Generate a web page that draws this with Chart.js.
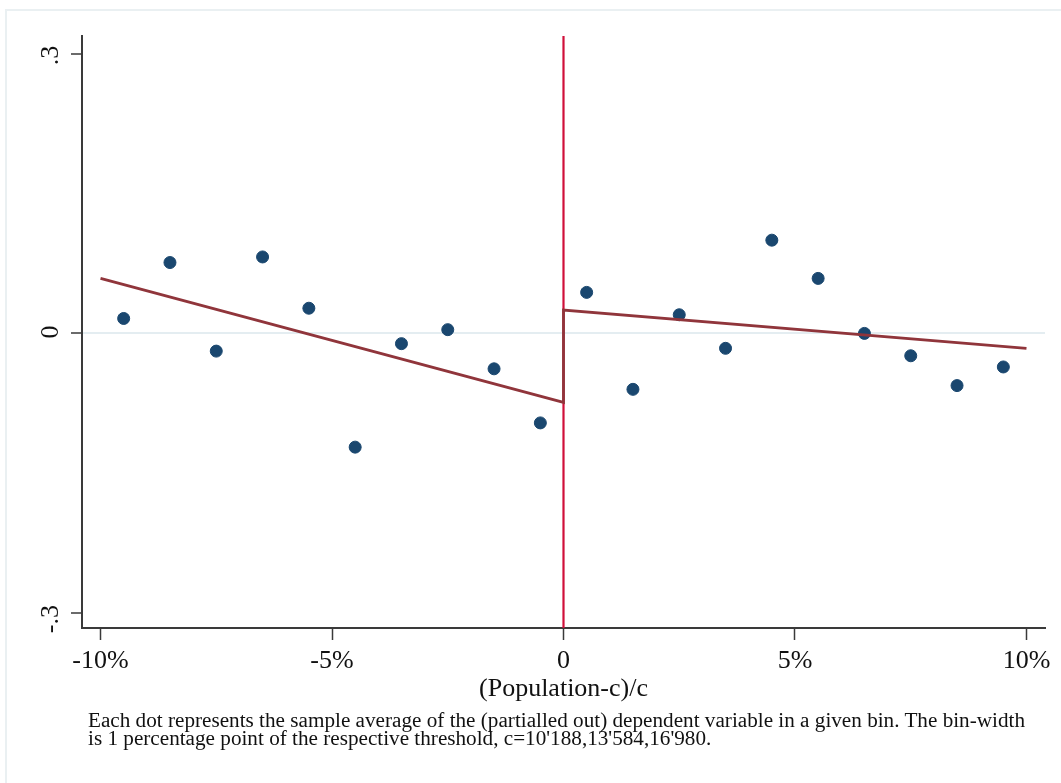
<!DOCTYPE html>
<html>
<head>
<meta charset="utf-8">
<script src="https://cdn.jsdelivr.net/npm/chart.js@4.4.1/dist/chart.umd.min.js"></script>
<style>
  html, body { margin: 0; padding: 0; background: #fff; }
  #wrap { position: relative; width: 1061px; height: 783px; overflow: hidden; }
  #frame { position: absolute; left: 5px; top: 9px; width: 1100px; height: 800px;
           border-top: 2px solid #eaf0f2; border-left: 2px solid #eaf0f2; }
  #chart { position: absolute; left: 0; top: 0; }
  #note { position: absolute; left: 88px; top: 711px; font-family: "Liberation Serif", serif;
          font-size: 20px; line-height: 18px; color: #111; white-space: nowrap;
          transform-origin: 0 0; }
</style>
</head>
<body>
<div id="wrap">
  <div id="frame"></div>
  <canvas id="chart" width="1061" height="783"></canvas>
  <div id="note"><span id="l1">Each dot represents the sample average of the (partialled out) dependent variable in a given bin. The bin-width</span><br>is 1 percentage point of the respective threshold, c=10'188,13'584,16'980.</div>
</div>
<script>
// bins (centre of each 1pp bin) and their averages
const binX = [-9.5, -8.5, -7.5, -6.5, -5.5, -4.5, -3.5, -2.5, -1.5, -0.5,
               0.5,  1.5,  2.5,  3.5,  4.5,  5.5,  6.5,  7.5,  8.5,  9.5];
const binY = [0.016, 0.076, -0.019, 0.082, 0.027, -0.122, -0.011, 0.004, -0.038, -0.096,
              0.044, -0.060, 0.020, -0.016, 0.100, 0.059, 0.000, -0.024, -0.056, -0.036];

// linear fits either side of the threshold
const fitX = [-10, 0, 0, 10];
const fitY = [0.059, -0.074, 0.025, -0.016];

const xTicks = [-10, -5, 0, 5, 10];
const yTicks = [-0.3, 0, 0.3];
const yLabels = ["-.3", "0", ".3"];
const xMin = -10.4, xMax = 10.4;
const yMin = -0.316, yMax = 0.319;

const FONT = "'Liberation Serif', 'Times New Roman', serif";

const pts = binX.map((x, i) => ({ x, y: binY[i] }));
const fit = fitX.map((x, i) => ({ x, y: fitY[i] }));

new Chart(document.getElementById("chart"), {
  type: "scatter",
  data: {
    datasets: [
      {
        type: "line",
        data: [{ x: 0, y: yMin }, { x: 0, y: yMax }],
        borderColor: "#d0103a",
        borderWidth: 2.2,
        pointRadius: 0,
        order: 3,
      },
      {
        data: pts,
        backgroundColor: "#1a476f",
        borderColor: "#1a476f",
        pointRadius: 6,
        order: 2,
      },
      {
        type: "line",
        data: fit,
        borderColor: "#90353b",
        borderWidth: 2.8,
        pointRadius: 0,
        order: 1,
      },
    ],
  },
  options: {
    responsive: false,
    animation: false,
    layout: { padding: { left: 22, right: 16, top: 36, bottom: 78 } },
    plugins: { legend: { display: false }, tooltip: { enabled: false } },
    scales: {
      x: {
        type: "linear",
        min: xMin,
        max: xMax,
        afterBuildTicks: (s) => { s.ticks = xTicks.map((v) => ({ value: v })); },
        afterFit: (s) => { s.height = 77; },
        border: { color: "#3a3a3a", width: 2 },
        grid: { drawOnChartArea: false, tickLength: 12, tickColor: "#3a3a3a", tickWidth: 1.5 },
        ticks: {
          color: "#111",
          font: { family: FONT, size: 26 },
          padding: 6,
          maxRotation: 0,
          callback: (v) => (v === 0 ? "0" : v + "%"),
        },
        title: {
          display: true,
          text: "(Population-c)/c",
          color: "#111",
          font: { family: FONT, size: 26 },
          padding: { top: 0, bottom: 0 },
        },
      },
      y: {
        type: "linear",
        min: yMin,
        max: yMax,
        afterBuildTicks: (s) => { s.ticks = yTicks.map((v) => ({ value: v })); },
        afterFit: (s) => { s.width = 60; },
        border: { color: "#3a3a3a", width: 2 },
        grid: {
          color: (c) => (c.tick && c.tick.value === 0 ? "#e4edf1" : "rgba(0,0,0,0)"),
          lineWidth: 2,
          tickLength: 11,
          tickColor: "#3a3a3a",
          tickWidth: 1.5,
        },
        ticks: {
          color: "#111",
          font: { family: FONT, size: 26 },
          padding: 20,
          labelOffset: -8,
          minRotation: 90,
          maxRotation: 90,
          callback: (v) => yLabels[yTicks.indexOf(v)] ?? "",
        },
      },
    },
  },
});

// squeeze the note to the width of the original (narrow typeface)
const note = document.getElementById("note");
const w = document.getElementById("l1").getBoundingClientRect().width;
note.style.transform = "scaleX(" + (937 / w) + ")";
</script>
</body>
</html>
